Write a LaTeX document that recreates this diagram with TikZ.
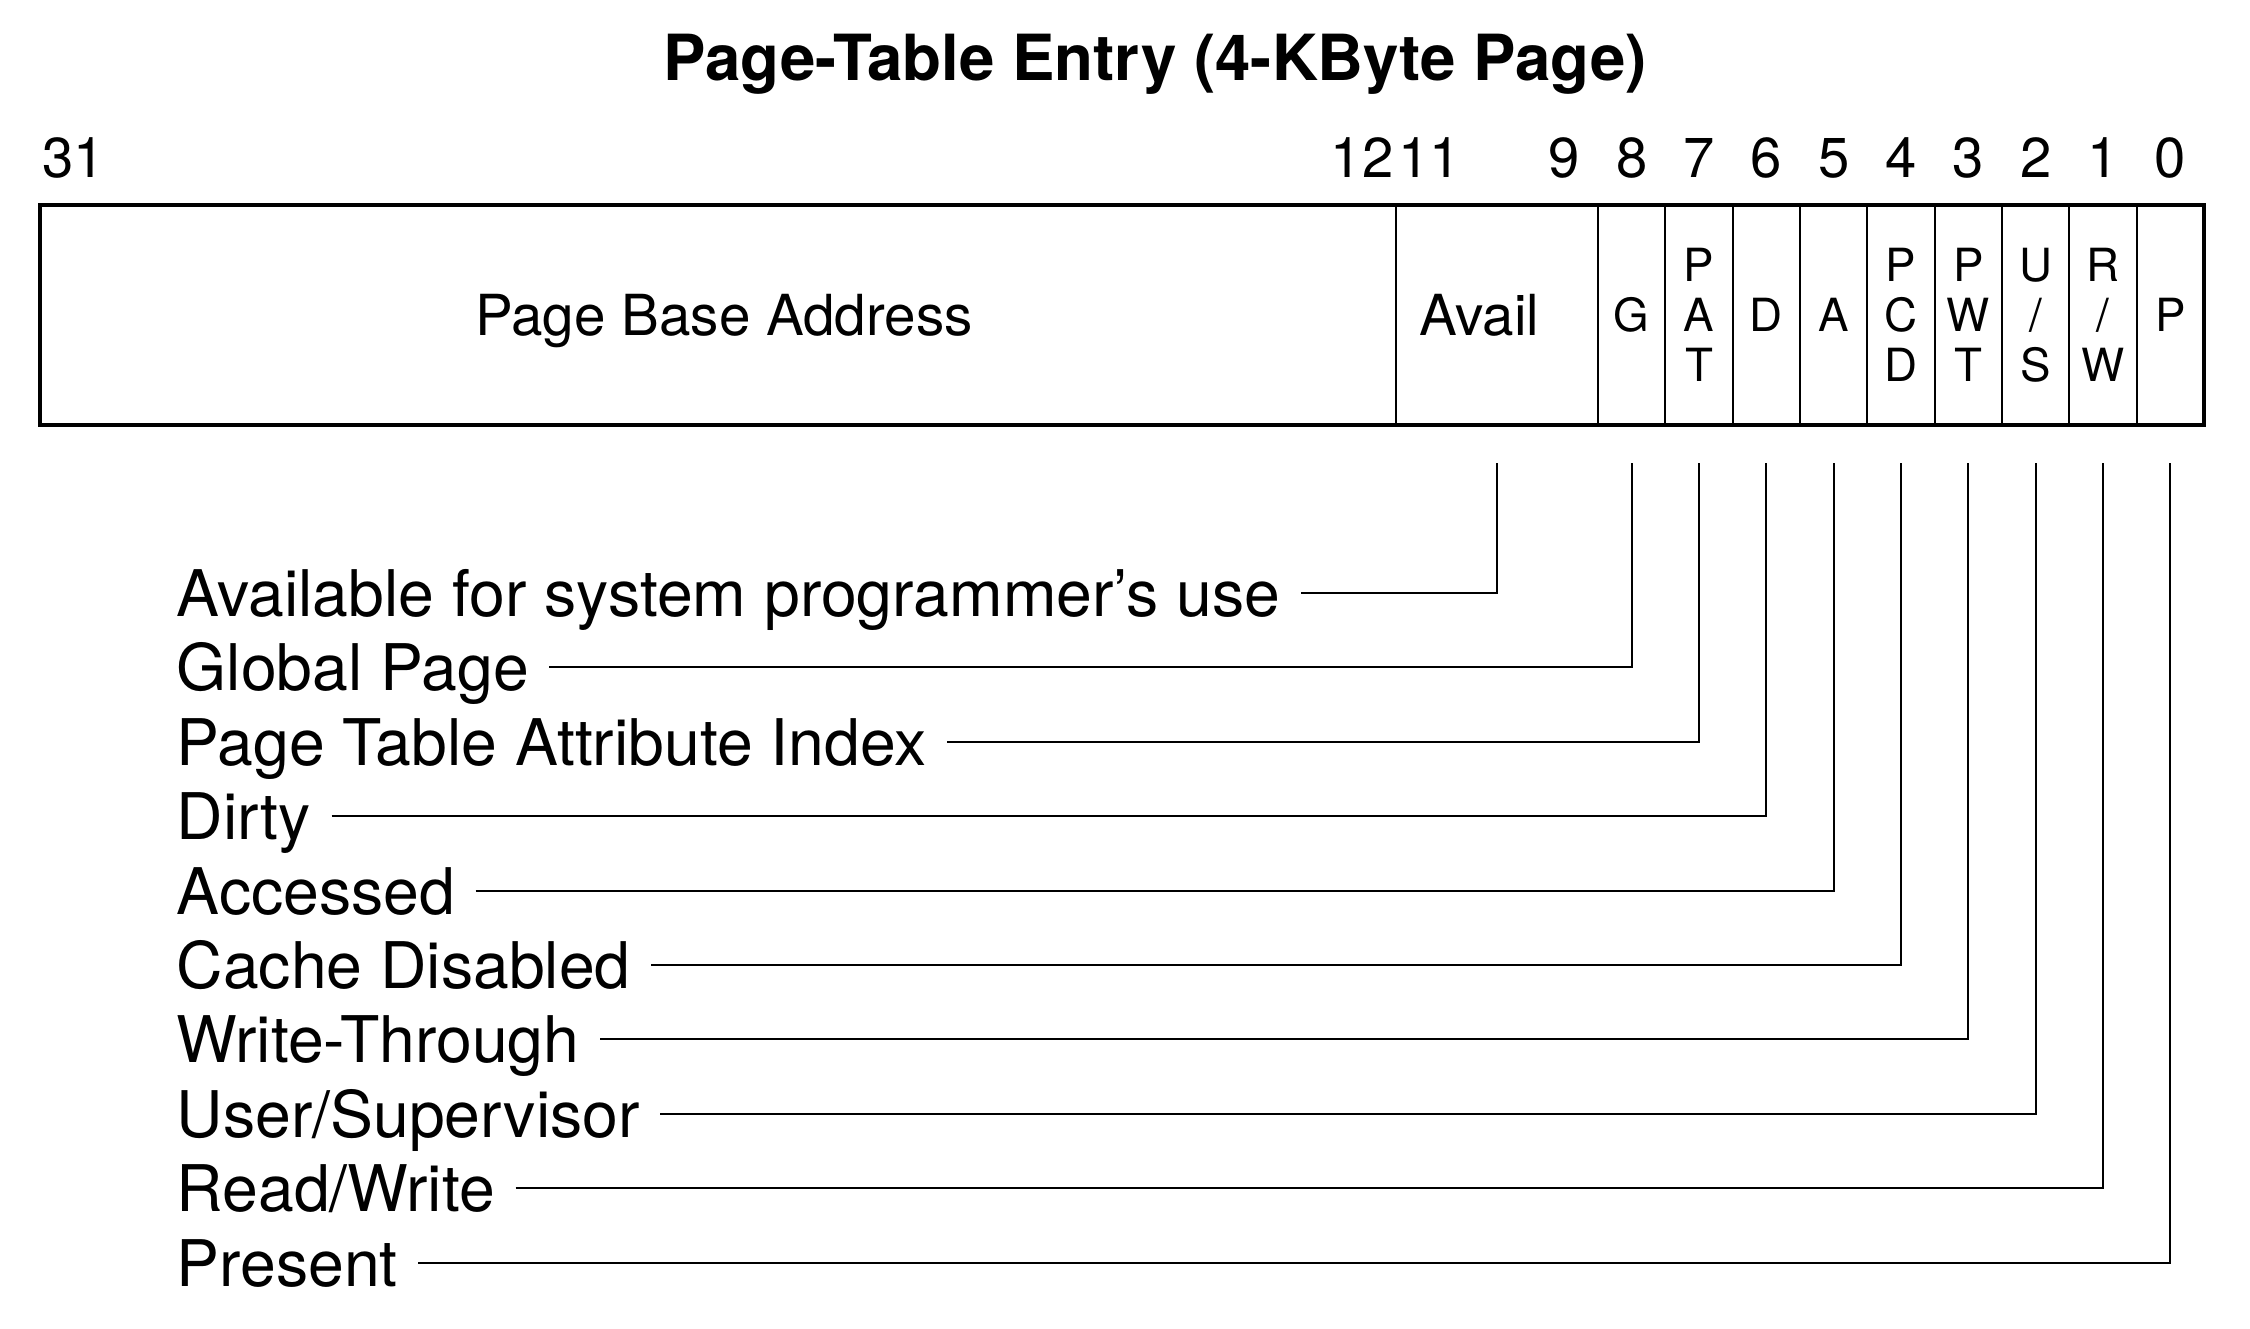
\documentclass[tikz,border=0pt]{standalone}
\usepackage{fontspec}
\setmainfont{TeX Gyre Heros}
\usetikzlibrary{positioning}

\newcommand{\bw}{0.6733}

\tikzset{
  field/.style={draw, line width=0.57pt, minimum height=2.2cm, inner sep=0pt,
    outer sep=0pt, align=center, font=\fontsize{13}{14.2}\selectfont},
  bigfield/.style={field, font=\fontsize{16.1}{19}\selectfont},
  bitno/.style={anchor=base, inner sep=0pt, font=\fontsize{16}{19}\selectfont},
  lbl/.style={anchor=west, inner xsep=0.2cm, inner ysep=0pt, text height=0.47cm,
    text depth=0pt, font=\fontsize{18.3}{21}\selectfont},
  leader/.style={line width=0.57pt}
}

\begin{document}
\begin{tikzpicture}
  \useasboundingbox (0,0) rectangle (22.5,-13.28);

  \node[anchor=base, font=\fontsize{18.1}{21}\selectfont\bfseries] (title) at (11.55,-0.80)
    {Page-Table Entry (4-KByte Page)};

  % the entry, bit 31 down to bit 0
  \node[bigfield, anchor=north west, minimum width=13.56cm, text depth=0pt]
    (base) at (0.40,-2.05) {\hspace{0.12cm}Page Base Address};
  \node[bigfield, minimum width=3*\bw cm, right=0pt of base] (avail) {Avail\hspace{0.35cm}};
  \node[field, minimum width=\bw cm, right=0pt of avail] (G) {G};
  \node[field, minimum width=\bw cm, right=0pt of G] (PAT) {P\\A\\T};
  \node[field, minimum width=\bw cm, right=0pt of PAT] (D) {D};
  \node[field, minimum width=\bw cm, right=0pt of D] (A) {A};
  \node[field, minimum width=\bw cm, right=0pt of A] (PCD) {P\\C\\D};
  \node[field, minimum width=\bw cm, right=0pt of PCD] (PWT) {P\\W\\T};
  \node[field, minimum width=\bw cm, right=0pt of PWT] (US) {U\\/\\S};
  \node[field, minimum width=\bw cm, right=0pt of US] (RW) {R\\/\\W};
  \node[field, minimum width=\bw cm, right=0pt of RW] (P) {P};
  \draw[line width=1.05pt] (base.north west) rectangle (P.south east);

  % bit numbers
  \foreach \n in {31,12,11,9,8,7,6,5,4,3,2,1,0}
    \node[bitno] (n\n) at ({\n>11 ? 0.40+(31-\n+0.5)*0.678 : 22.04-(\n+0.5)*\bw},-1.77) {\n};

  % flag names and their leaders
  \foreach \f/\txt [count=\i] in {avail/Available for system programmer's use,
      G/Global Page, PAT/Page Table Attribute Index, D/Dirty, A/Accessed,
      PCD/Cache Disabled, PWT/Write-Through, US/{User/Supervisor},
      RW/{Read/Write}, P/Present} {
    \node[lbl] (l\i) at (1.56,{-5.93-(\i-1)*0.744}) {\txt};
    \coordinate (t\i) at ([yshift=-0.38cm]\f.south);
    \draw[leader] (l\i.east) -| (t\i);
  }
\end{tikzpicture}
\end{document}
